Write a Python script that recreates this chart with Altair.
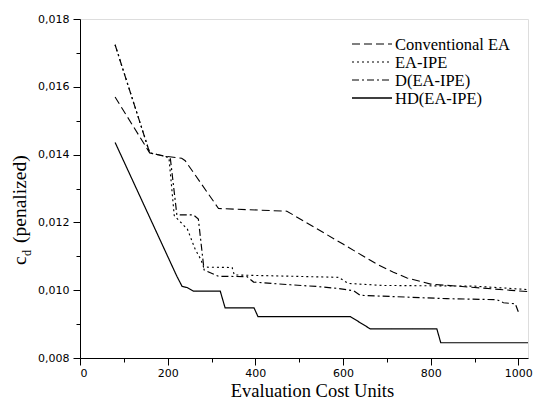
import altair as alt
import pandas as pd

# ---- data ----
conv_x = [80, 159, 194.5, 232, 240, 316, 472, 600, 677, 715, 746, 800, 900, 1030]
conv_y = [0.0157, 0.01405, 0.01395, 0.01389, 0.01382, 0.01241, 0.01233, 0.01136, 0.01077,
          0.01053, 0.01036, 0.01018, 0.01008, 0.00995]

ipe_x = [80, 159, 194.5, 203, 215, 245, 263, 276, 282, 347, 352, 590, 612, 690, 900, 1020]
ipe_y = [0.01724, 0.01405, 0.01395, 0.0139, 0.0122, 0.0118, 0.0112, 0.0109, 0.01068,
         0.01067, 0.01045, 0.01038, 0.0102, 0.01014, 0.01012, 0.01002]

d_x = [80, 159, 194.5, 206, 221, 259, 270, 283, 300, 316, 381, 396, 480, 540, 590, 625,
       639, 837, 951, 966, 993, 1000]
d_y = [0.01724, 0.01405, 0.01395, 0.0139, 0.01222, 0.01222, 0.0121, 0.0106, 0.0105,
       0.01041, 0.0104, 0.01024, 0.01016, 0.01011, 0.01005, 0.00998, 0.00985, 0.00975,
       0.00972, 0.00963, 0.0096, 0.00936]

hd_x = [80, 221, 233, 244, 259, 320, 331, 397, 406, 617, 662, 814, 823, 1040]
hd_y = [0.01436, 0.01041, 0.01011, 0.01008, 0.00997, 0.00997, 0.00948, 0.00948, 0.00922,
        0.00922, 0.00886, 0.00886, 0.00845, 0.00845]

series_names = ["Conventional EA", "EA-IPE", "D(EA-IPE)", "HD(EA-IPE)"]
x_major = [0, 200, 400, 600, 800, 1000]
x_minor = [100, 300, 500, 700, 900]
y_major = [0.008, 0.010, 0.012, 0.014, 0.016, 0.018]
y_minor = [0.009, 0.011, 0.013, 0.015, 0.017]

rows = []
for name, xs, ys in zip(series_names, [conv_x, ipe_x, d_x, hd_x], [conv_y, ipe_y, d_y, hd_y]):
    for i, (a, b) in enumerate(zip(xs, ys)):
        rows.append({"series": name, "x": a, "y": b, "order": i})
df = pd.DataFrame(rows)

SERIF = "Liberation Serif"
dashes = [[8, 4], [2, 3], [7, 3, 2, 3], [1, 0]]
widths = [1.1, 1.2, 1.1, 1.3]

xscale = alt.Scale(domain=[0, 1022], nice=False, zero=False)
yscale = alt.Scale(domain=[0.008, 0.018], nice=False, zero=False)

lab = dict(labelFont="DejaVu Sans", labelFontSize=11, labelColor="black",
           domainColor="black", tickColor="black", grid=False, tickWidth=1, domainWidth=1)

lines = alt.Chart(df).mark_line(color="black", clip=True).encode(
    x=alt.X("x:Q", scale=xscale,
            axis=alt.Axis(values=x_major, format="d", tickSize=7, labelPadding=2,
                          title="Evaluation Cost Units", titleFont=SERIF,
                          titleFontSize=18.5, titleFontWeight="normal", titleColor="black",
                          titlePadding=3, titleX=232, titleAlign="center",
                          orient="bottom", **lab)),
    y=alt.Y("y:Q", scale=yscale,
            axis=alt.Axis(values=y_major, tickSize=7, labelPadding=4, title=None,
                          labelExpr="replace(format(datum.value, '.3f'), '.', ',')",
                          orient="left", **lab)),
    detail="series:N",
    order="order:Q",
    strokeDash=alt.StrokeDash("series:N", scale=alt.Scale(domain=series_names, range=dashes),
                              legend=None),
    strokeWidth=alt.StrokeWidth("series:N", scale=alt.Scale(domain=series_names, range=widths),
                                legend=None),
)

minor = alt.Chart(df).mark_point(opacity=0).encode(
    x=alt.X("x:Q", scale=xscale,
            axis=alt.Axis(values=x_minor, labels=False, domain=False, tickSize=4, title=None,
                          orient="bottom", tickColor="black", grid=False)),
    y=alt.Y("y:Q", scale=yscale,
            axis=alt.Axis(values=y_minor, labels=False, domain=False, tickSize=4, title=None,
                          orient="left", tickColor="black", grid=False)),
)

layers = [lines, minor]

# legend
leg_y = [25, 43, 61, 79]
for name, dsh, w, ly in zip(series_names, dashes, widths, leg_y):
    layers.append(alt.Chart(pd.DataFrame({"a": [0]})).mark_rule(
        color="black", strokeDash=dsh, strokeWidth=w).encode(
        x=alt.value(272), x2=alt.value(312), y=alt.value(ly)))
    layers.append(alt.Chart(pd.DataFrame({"t": [name]})).mark_text(
        font=SERIF, fontSize=16.5, align="left", baseline="alphabetic",
        color="black").encode(text="t:N", x=alt.value(315), y=alt.value(ly + 6)))

# y-axis title: c_d (penalized)
title_parts = [("c", 19.5, -54, 246), ("d", 12, -49, 237), ("(penalized)", 19.5, -54, 224)]
for txt, fs, tx, ty in title_parts:
    layers.append(alt.Chart(pd.DataFrame({"t": [txt]})).mark_text(
        font=SERIF, fontSize=fs, align="left", baseline="alphabetic",
        angle=270, color="black").encode(text="t:N", x=alt.value(tx), y=alt.value(ty)))

chart = alt.layer(*layers).resolve_axis(x="independent", y="independent").properties(
    width=448, height=339,
    autosize=alt.AutoSizeParams(type="none"),
    padding={"left": 72, "top": 11, "right": 5, "bottom": 42},
).configure_view(stroke=None).configure(background="white")

chart.save("out.html", embed_options={"renderer": "svg", "actions": False})
